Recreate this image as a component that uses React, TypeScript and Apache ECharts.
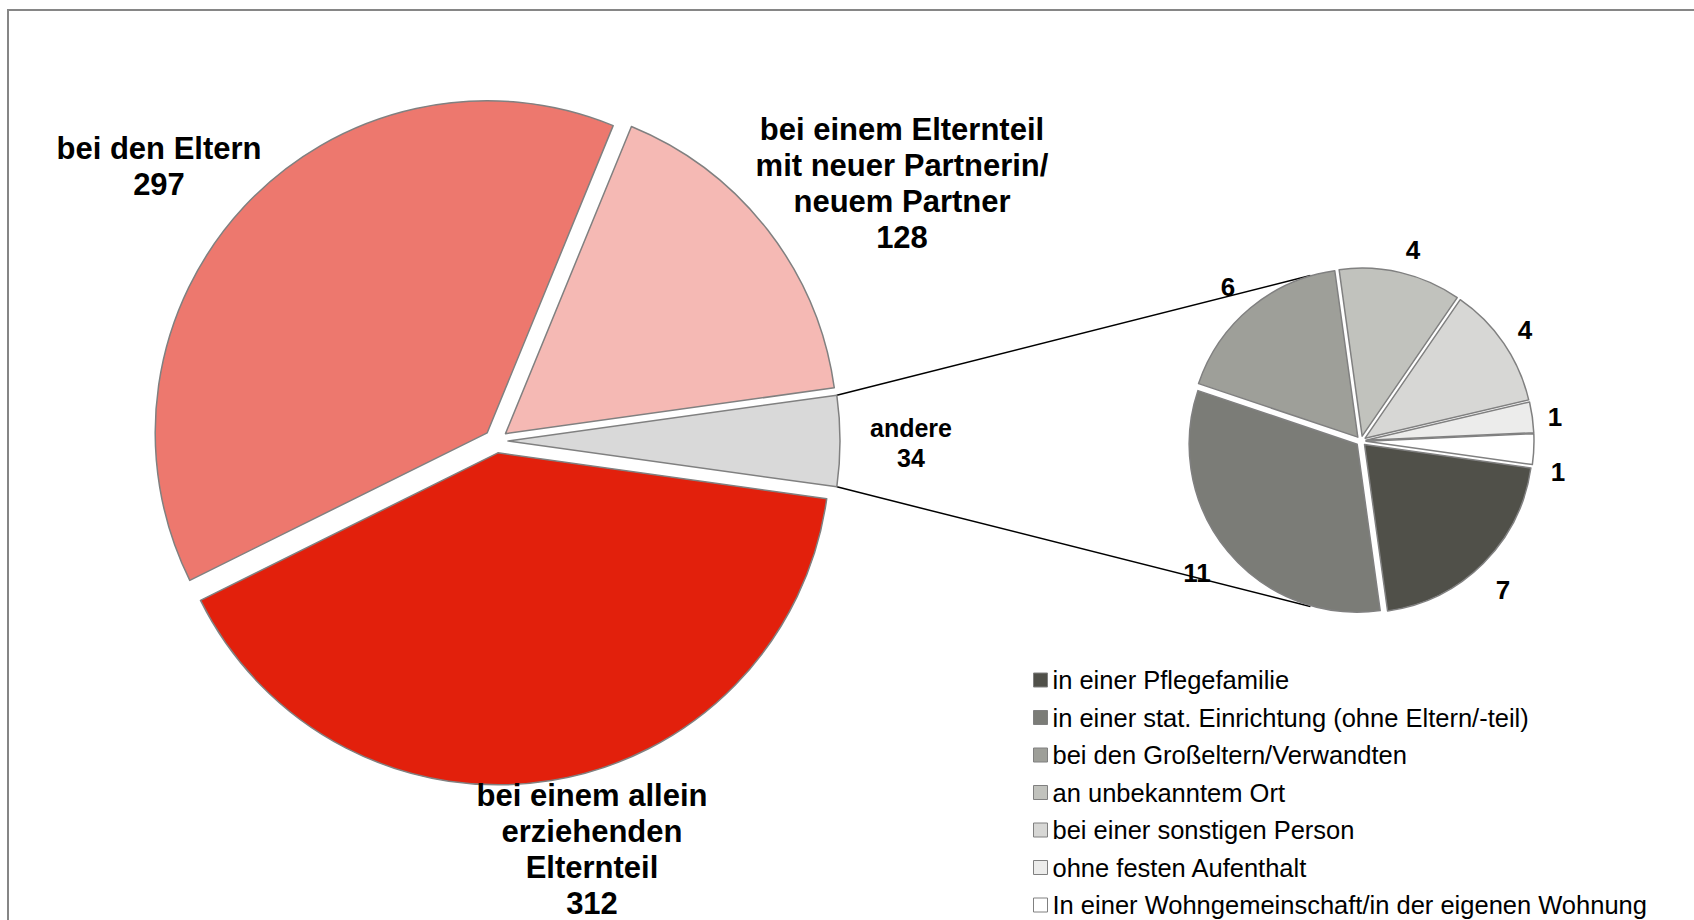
import React, { useEffect, useRef } from 'react';
import * as echarts from 'echarts';

// ---- Data ----
const mainCategories = [
  'bei einem Elternteil\nmit neuer Partnerin/\nneuem Partner',
  'andere',
  'bei einem allein\nerziehenden\nElternteil',
  'bei den Eltern',
];
const mainValues = [128, 34, 312, 297];
const mainColors = ['#f5b9b4', '#d9d9d9', '#e2200c', '#ed786e'];

const subCategories = [
  'in einer Pflegefamilie',
  'in einer stat. Einrichtung (ohne Eltern/-teil)',
  'bei den Großeltern/Verwandten',
  'an unbekanntem Ort',
  'bei einer sonstigen Person',
  'ohne festen Aufenthalt',
  'In einer Wohngemeinschaft/in der eigenen Wohnung',
];
const subValues = [7, 11, 6, 4, 4, 1, 1];
const subColors = ['#505049', '#7b7c77', '#9e9f99', '#c1c2bd', '#d7d7d5', '#ececeb', '#ffffff'];

// ---- Layout (positions / styles) ----
const FONT = "'Liberation Sans', Arial, Helvetica, sans-serif";
const MAIN_C = [496, 441];
const MAIN_R = 332;
const MAIN_OFF = 12;
const SUB_C = [1361, 441];
const SUB_R = 168;
const SUB_OFF = 5;
const SUB_START = -8;
const CONNECT_ANGLE = 107;
const mainLabelPos = [
  [902, 183],
  [911, 443],
  [592, 849],
  [159, 166],
];
const subLabelPos = [
  [1503, 590],
  [1197, 573],
  [1228, 287],
  [1413, 250],
  [1525, 330],
  [1555, 417],
  [1558, 472],
];

export default function App() {
  const ref = useRef<HTMLDivElement>(null);

  useEffect(() => {
    document.body.style.margin = '0';
    if (!ref.current) return;
    const chart = echarts.init(ref.current, null, { renderer: 'svg' });

    const total = mainValues.reduce((a, b) => a + b, 0);
    const otherIdx = 1;
    // Rotate so that the "andere" slice is centered on the right (0 deg)
    const before = mainValues.slice(0, otherIdx).reduce((a, b) => a + b, 0);
    const mainStart = ((before + mainValues[otherIdx] / 2) / total) * 360;
    const halfOther = ((mainValues[otherIdx] / 2) / total) * 360;
    const rad = (d: number) => (d * Math.PI) / 180;

    const p1 = [
      MAIN_C[0] + MAIN_OFF + MAIN_R * Math.cos(rad(halfOther)),
      MAIN_C[1] - MAIN_R * Math.sin(rad(halfOther)),
    ];
    const p2 = [
      MAIN_C[0] + MAIN_OFF + MAIN_R * Math.cos(rad(halfOther)),
      MAIN_C[1] + MAIN_R * Math.sin(rad(halfOther)),
    ];
    const sr = SUB_R + SUB_OFF;
    const q1 = [SUB_C[0] + sr * Math.cos(rad(CONNECT_ANGLE)), SUB_C[1] - sr * Math.sin(rad(CONNECT_ANGLE))];
    const q2 = [SUB_C[0] + sr * Math.cos(rad(CONNECT_ANGLE)), SUB_C[1] + sr * Math.sin(rad(CONNECT_ANGLE))];

    const mainLabels = mainCategories.map((name, i) => ({
      type: 'text',
      silent: true,
      z: 10,
      style: {
        text: `${name}\n${mainValues[i]}`,
        x: mainLabelPos[i][0],
        y: mainLabelPos[i][1],
        align: 'center',
        verticalAlign: 'middle',
        fontFamily: FONT,
        fontWeight: 'bold',
        fontSize: i === otherIdx ? 25 : 31,
        lineHeight: i === otherIdx ? 30 : 36,
        fill: '#000',
      },
    }));
    const subLabels = subValues.map((v, i) => ({
      type: 'text',
      silent: true,
      z: 10,
      style: {
        text: String(v),
        x: subLabelPos[i][0],
        y: subLabelPos[i][1],
        align: 'center',
        verticalAlign: 'middle',
        fontFamily: FONT,
        fontWeight: 'bold',
        fontSize: 26,
        fill: '#000',
      },
    }));

    const option: any = {
      animation: false,
      backgroundColor: '#ffffff',
      textStyle: { fontFamily: FONT },
      legend: {
        data: subCategories,
        orient: 'vertical',
        left: 1033,
        top: 667,
        padding: 0,
        itemWidth: 14,
        itemHeight: 14,
        itemGap: 11.5,
        icon: 'rect',
        selectedMode: false,
        itemStyle: { borderColor: '#808080', borderWidth: 1 },
        textStyle: { fontFamily: FONT, fontSize: 25.5, lineHeight: 26, color: '#000' },
      },
      graphic: [
        {
          type: 'rect',
          shape: { x: 8, y: 10, width: 1800, height: 1000 },
          style: { fill: 'none', stroke: '#868686', lineWidth: 2 },
          silent: true,
          z: 0,
        },
        {
          type: 'line',
          shape: { x1: p1[0], y1: p1[1], x2: q1[0], y2: q1[1] },
          style: { stroke: '#000', lineWidth: 1.5 },
          silent: true,
          z: 0,
        },
        {
          type: 'line',
          shape: { x1: p2[0], y1: p2[1], x2: q2[0], y2: q2[1] },
          style: { stroke: '#000', lineWidth: 1.5 },
          silent: true,
          z: 0,
        },
        ...mainLabels,
        ...subLabels,
      ],
      series: [
        {
          type: 'pie',
          center: MAIN_C,
          radius: MAIN_R,
          startAngle: mainStart,
          clockwise: true,
          selectedMode: 'multiple',
          selectedOffset: MAIN_OFF,
          emphasis: { disabled: true },
          itemStyle: { borderColor: '#808080', borderWidth: 1.5 },
          label: { show: false },
          labelLine: { show: false },
          data: mainCategories.map((name, i) => ({
            name,
            value: mainValues[i],
            selected: true,
            itemStyle: { color: mainColors[i] },
          })),
          z: 2,
        },
        {
          type: 'pie',
          center: SUB_C,
          radius: SUB_R,
          startAngle: SUB_START,
          clockwise: true,
          selectedMode: 'multiple',
          selectedOffset: SUB_OFF,
          emphasis: { disabled: true },
          itemStyle: { borderColor: '#808080', borderWidth: 1.5 },
          label: { show: false },
          labelLine: { show: false },
          data: subCategories.map((name, i) => ({
            name,
            value: subValues[i],
            selected: true,
            itemStyle: { color: subColors[i] },
          })),
          z: 2,
        },
      ],
    };

    chart.setOption(option);
    return () => chart.dispose();
  }, []);

  return <div ref={ref} style={{ width: 1694, height: 920 }} />;
}
